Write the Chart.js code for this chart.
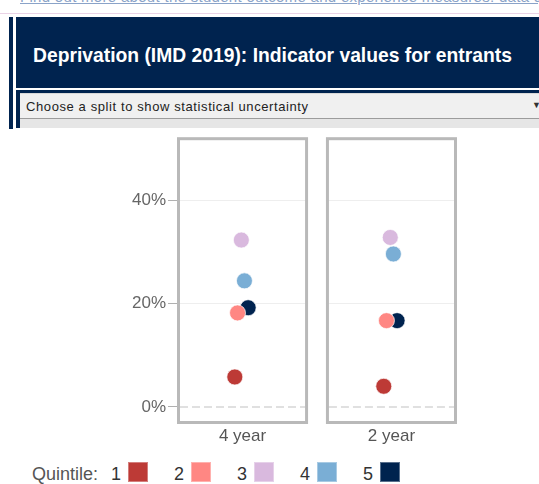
<!DOCTYPE html>
<html>
<head>
<meta charset="utf-8">
<script src="https://cdn.jsdelivr.net/npm/chart.js@4/dist/chart.umd.min.js"></script>
<style>
  html, body { margin: 0; padding: 0; background: #fff; }
  body { width: 539px; height: 484px; overflow: hidden; position: relative; font-family: "Liberation Sans", Arial, sans-serif; }
  .topstrip { position: absolute; left: 20px; top: -12px; width: 519px; height: 24px; overflow: hidden;
    font-size: 15px; line-height: 18px; color: #8aa3c8; text-decoration: underline; white-space: nowrap; letter-spacing: 0.3px; }
  .pinkline { position: absolute; left: 0; top: 13px; width: 539px; height: 1px; background: #ead3e6; }
  .leftbar { position: absolute; left: 9px; top: 17px; width: 4px; height: 112px; background: #00234f; }
  .banner { position: absolute; left: 16px; top: 17px; width: 523px; height: 71px; background: #00234f; }
  .banner .title { position: absolute; left: 17px; top: 28px; color: #fff; font-weight: bold; font-size: 19.3px; line-height: 22px; white-space: nowrap; }
  .navyline { position: absolute; left: 16px; top: 90px; width: 523px; height: 3px; background: #00234f; }
  .navyleft { position: absolute; left: 16px; top: 90px; width: 4px; height: 38px; background: #00234f; }
  .dropdown { position: absolute; left: 20px; top: 93px; width: 519px; height: 26px; background: #f0f0f0;
    border-top: 1px solid #d8d8d8; border-bottom: 1px solid #9c9c9c; box-sizing: border-box; }
  .dropdown .txt { position: absolute; left: 6px; top: 5px; font-size: 13px; line-height: 15px; color: #222; letter-spacing: 0.6px; white-space: nowrap; }
  .dropdown .arrow { position: absolute; right: -2px; top: 6px; font-size: 9px; color: #333; }
  .dropshade { position: absolute; left: 20px; top: 119px; width: 519px; height: 9px; background: #e6e6e6; }
  #wrap { position: absolute; left: 0; top: 125px; width: 539px; height: 330px; }
  .legend { position: absolute; left: 32px; top: 462px; height: 20px; display: flex; align-items: center; font-size: 18px; }
  .legend .lab { color: #555; margin-right: 13px; position: relative; top: 2px; }
  .legend .num { color: #333; position: relative; top: 2px; }
  .legend .sw { width: 20px; height: 20px; margin-left: 7px; margin-right: 26px; box-sizing: border-box; border: 1px solid rgba(255,255,255,0.35); }
</style>
</head>
<body>
<div class="topstrip">Find out more about the student outcome and experience measures: data quality.</div>
<div class="pinkline"></div>
<div class="leftbar"></div>
<div class="banner"><div class="title">Deprivation (IMD 2019): Indicator values for entrants</div></div>
<div class="navyline"></div>
<div class="navyleft"></div>
<div class="dropdown"><span class="txt">Choose a split to show statistical uncertainty</span><span class="arrow">&#9660;</span></div>
<div class="dropshade"></div>
<div id="wrap"><canvas id="c" width="539" height="330"></canvas></div>
<div class="legend" id="legend"></div>
<script>
// ---- data ----
const categories = ['4 year', '2 year'];
const quintiles = ['1', '2', '3', '4', '5'];
const q1 = [5.8, 4.0];
const q2 = [18.2, 16.7];
const q3 = [32.3, 32.8];
const q4 = [24.4, 29.6];
const q5 = [19.2, 16.7];
const yTicks = [0, 20, 40];
const legendTitle = 'Quintile:';

// ---- style ----
const colors = ['#bd3a36', '#ff8783', '#d9b9de', '#7aaed5', '#00234f'];
const jitterPx = [-7.7, -5, -1.2, 1.9, 5.6];
const panelHalf = 0.44;

const series = [q1, q2, q3, q4, q5];
const datasets = series.map((vals, i) => ({
  label: quintiles[i],
  data: vals.map((v, k) => ({ x: k, y: v })),
  backgroundColor: colors[i],
  borderColor: 'rgba(255,255,255,0.7)',
  borderWidth: 1,
  pointRadius: 8,
  pointHoverRadius: 8
}));

const jitterPlugin = {
  id: 'jitter',
  afterDatasetsUpdate(chart) {
    chart.data.datasets.forEach((ds, di) => {
      const meta = chart.getDatasetMeta(di);
      meta.data.forEach(el => { el.x += jitterPx[di]; });
    });
  }
};

function panelRects(chart) {
  const xs = chart.scales.x, ca = chart.chartArea;
  return categories.map((c, i) => ({
    left: xs.getPixelForValue(i - panelHalf),
    right: xs.getPixelForValue(i + panelHalf),
    top: ca.top, bottom: ca.bottom
  }));
}

const panelPlugin = {
  id: 'panels',
  beforeDatasetsDraw(chart) {
    const ctx = chart.ctx, rects = panelRects(chart), ys = chart.scales.y;
    ctx.save();
    ctx.fillStyle = '#ffffff';
    for (let i = 0; i < rects.length - 1; i++) {
      ctx.fillRect(rects[i].right, rects[i].top - 2, rects[i + 1].left - rects[i].right, rects[i].bottom - rects[i].top + 4);
    }
    const y0 = ys.getPixelForValue(0);
    ctx.strokeStyle = '#e0e0e0';
    ctx.lineWidth = 2;
    ctx.setLineDash([8, 4]);
    rects.forEach(r => {
      ctx.beginPath();
      ctx.moveTo(r.left + 3, y0);
      ctx.lineTo(r.right - 3, y0);
      ctx.stroke();
    });
    ctx.restore();
  },
  afterDraw(chart) {
    const ctx = chart.ctx, rects = panelRects(chart);
    ctx.save();
    ctx.strokeStyle = '#b9b9b9';
    ctx.lineWidth = 3;
    rects.forEach(r => ctx.strokeRect(r.left + 1.5, r.top + 1.5, r.right - r.left - 3, r.bottom - r.top - 3));
    ctx.restore();
  }
};

new Chart(document.getElementById('c'), {
  type: 'scatter',
  data: { datasets },
  options: {
    responsive: false,
    animation: false,
    events: [],
    layout: { padding: { left: 0, right: 82, top: 10, bottom: 5 } },
    plugins: { legend: { display: false }, tooltip: { enabled: false } },
    scales: {
      x: {
        type: 'linear',
        min: -panelHalf,
        max: categories.length - 1 + panelHalf,
        afterBuildTicks: s => { s.ticks = categories.map((c, i) => ({ value: i })); },
        afterFit: s => { s.height = 26; },
        grid: { display: false, drawTicks: false },
        border: { display: false },
        ticks: {
          callback: v => categories[v],
          font: { family: '"Liberation Sans", Arial, sans-serif', size: 17 },
          color: '#555555',
          padding: 2,
          maxRotation: 0
        }
      },
      y: {
        min: -3.3,
        max: 52.2,
        afterBuildTicks: s => { s.ticks = yTicks.map(v => ({ value: v })); },
        afterFit: s => { s.width = 177; },
        border: { display: false },
        grid: {
          color: ctx => (ctx.tick && ctx.tick.value === 0) ? 'rgba(0,0,0,0)' : '#eeeeee',
          tickColor: '#b0b0b0',
          tickLength: 9,
          lineWidth: 1
        },
        ticks: {
          callback: v => v + '%',
          font: { family: '"Liberation Sans", Arial, sans-serif', size: 17 },
          color: '#666666',
          padding: 2
        }
      }
    }
  },
  plugins: [jitterPlugin, panelPlugin]
});

// legend
const lg = document.getElementById('legend');
const lab = document.createElement('span');
lab.className = 'lab';
lab.textContent = legendTitle;
lg.appendChild(lab);
quintiles.forEach((q, i) => {
  const n = document.createElement('span');
  n.className = 'num';
  n.textContent = q;
  const sw = document.createElement('span');
  sw.className = 'sw';
  sw.style.background = colors[i];
  lg.appendChild(n);
  lg.appendChild(sw);
});
</script>
</body>
</html>
